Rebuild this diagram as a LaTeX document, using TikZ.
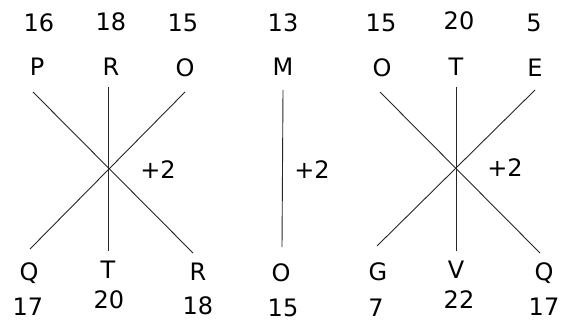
\documentclass[tikz,border=0pt]{standalone}
\usepackage{fontspec}
\setmainfont{DejaVu Sans}
\begin{document}
\begin{tikzpicture}[x=1pt,y=-1pt,
  lbl/.style={inner sep=0pt,font=\fontsize{24}{28}\selectfont},
  ln/.style={line width=0.9pt,black!85}]
\useasboundingbox (0,0) rectangle (561,323);
% left group
\node[lbl] (n16) at (39,23) {16};
\node[lbl] (n18a) at (111,22) {18};
\node[lbl] (n15a) at (183,23) {15};
\node[lbl] (P) at (37,67) {P};
\node[lbl] (R1) at (111,67) {R};
\node[lbl] (O1) at (185,68) {O};
\node[lbl] (Q1) at (29,273) {Q};
\node[lbl] (T1) at (108,270) {T};
\node[lbl] (R2) at (198,272) {R};
\node[lbl] (n17a) at (28,307) {17};
\node[lbl] (n20a) at (109,300) {20};
\node[lbl] (n18b) at (198,306) {18};
\node[lbl] (p1) at (158,170) {+2};
\coordinate (a1) at (33,92);
\coordinate (a2) at (193,253);
\coordinate (b1) at (185,92);
\coordinate (b2) at (30,249);
\coordinate (c1) at (108,87);
\coordinate (c2) at (108,251);
\draw[ln] (a1) -- (a2);
\draw[ln] (b1) -- (b2);
\draw[ln] (c1) -- (c2);
% middle
\node[lbl] (n13) at (283,23) {13};
\node[lbl] (M) at (283,67) {M};
\node[lbl] (O2) at (281,273) {O};
\node[lbl] (n15b) at (283,308) {15};
\node[lbl] (p2) at (312,170) {+2};
\coordinate (d1) at (283,90);
\coordinate (d2) at (282,247);
\draw[ln] (d1) -- (d2);
% right group
\node[lbl] (n15c) at (381,23) {15};
\node[lbl] (n20b) at (459,21) {20};
\node[lbl] (n5) at (534,23) {5};
\node[lbl] (O3) at (382,68) {O};
\node[lbl] (T2) at (456,67) {T};
\node[lbl] (E) at (535,68) {E};
\node[lbl] (G) at (378,272) {G};
\node[lbl] (V) at (456,270) {V};
\node[lbl] (Q2) at (544,273) {Q};
\node[lbl] (n7) at (376,308) {7};
\node[lbl] (n22) at (459,300) {22};
\node[lbl] (n17b) at (544,307) {17};
\node[lbl] (p3) at (505,168) {+2};
\coordinate (e1) at (380,92);
\coordinate (e2) at (540,253);
\coordinate (f1) at (535,90);
\coordinate (f2) at (377,246);
\coordinate (g1) at (456,87);
\coordinate (g2) at (456,251);
\draw[ln] (e1) -- (e2);
\draw[ln] (f1) -- (f2);
\draw[ln] (g1) -- (g2);
\end{tikzpicture}
\end{document}
